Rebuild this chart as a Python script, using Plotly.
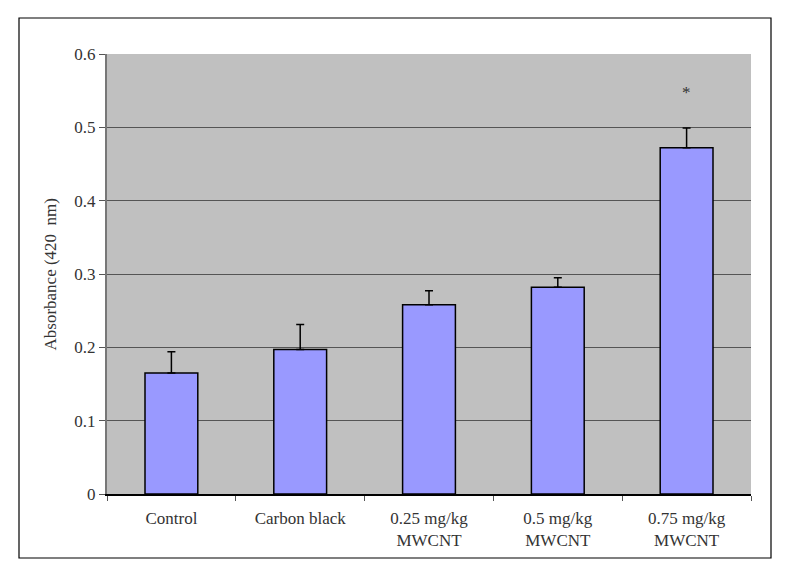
"""Absorbance (420 nm) par groupe de traitement"""
import plotly.graph_objects as go

# donnees
categories = ["Control", "Carbon black", "0.25 mg/kg<br>MWCNT",
              "0.5 mg/kg<br>MWCNT", "0.75 mg/kg<br>MWCNT"]
absorbance = [0.165, 0.197, 0.258, 0.282, 0.472]
erreur = [0.029, 0.034, 0.019, 0.013, 0.027]
y_ticks = [0, 0.1, 0.2, 0.3, 0.4, 0.5, 0.6]
y_tick_labels = ["0", "0.1", "0.2", "0.3", "0.4", "0.5", "0.6"]
signif_idx = 4

POLICE = "Times New Roman, Liberation Serif, DejaVu Serif, serif"

# la page ajoute une marge de 8 px autour de la figure
W, H = 777, 567
l, r, t, b = 99, 34, 46, 81
pw, ph = W - l - r, H - t - b

fig = go.Figure()
fig.add_trace(go.Bar(
    x=categories, y=absorbance,
    marker=dict(color="#9999FF", line=dict(color="black", width=1.5)),
    error_y=dict(type="data", array=erreur, arrayminus=[0] * len(erreur),
                 symmetric=False, color="black", thickness=1.5, width=4),
    width=0.41,
))

fig.add_annotation(x=categories[signif_idx], y=0.547, text="*",
                   showarrow=False, font=dict(family=POLICE, size=17, color="#333"))

# titre de l'axe y
fig.add_annotation(xref="paper", yref="paper", x=(30 - l) / pw, y=0.5,
                   text="Absorbance (420  nm)", textangle=-90, showarrow=False,
                   font=dict(family=POLICE, size=17, color="#333"))

# cadre exterieur
fig.add_shape(type="rect", xref="paper", yref="paper",
              x0=(11 - l) / pw, x1=(763 - l) / pw,
              y0=(H - b - 550) / ph, y1=(H - b - 10) / ph,
              line=dict(color="black", width=1.2), fillcolor="rgba(0,0,0,0)")

fig.update_layout(
    width=W, height=H,
    margin=dict(l=l, r=r, t=t, b=b),
    paper_bgcolor="white", plot_bgcolor="#C0C0C0",
    font=dict(family=POLICE, size=17, color="#333"),
    showlegend=False,
    xaxis=dict(tickson="boundaries", ticks="outside", ticklen=5,
               tickcolor="#555", showline=True, linecolor="black",
               linewidth=1.5, showgrid=False, ticklabelstandoff=8),
    yaxis=dict(range=[0, 0.6], tickvals=y_ticks, ticktext=y_tick_labels,
               ticks="outside", ticklen=6, tickcolor="#555",
               showline=True, linecolor="#777", linewidth=2,
               gridcolor="#555", gridwidth=1, zeroline=False),
)

fig.write_html("out.html")
